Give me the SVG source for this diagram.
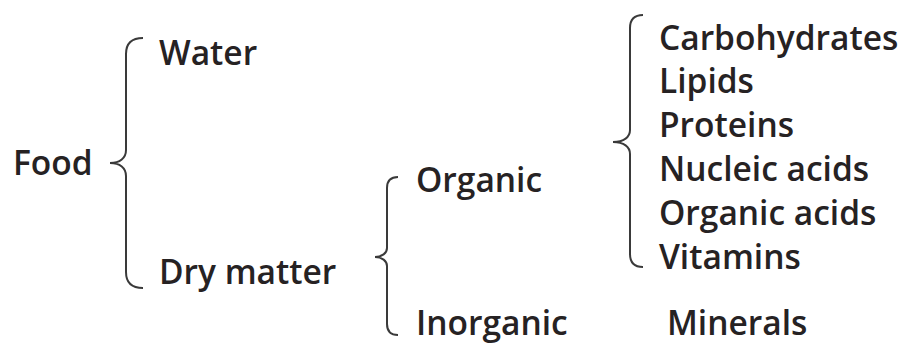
<svg xmlns="http://www.w3.org/2000/svg" width="904" height="347" viewBox="0 0 904 347">
<style>
text{font-family:"Open Sans","Noto Sans","Liberation Sans",sans-serif;font-size:33.5px;font-weight:600;fill:#262223}
.brace{fill:none;stroke:#3a3a3a;stroke-width:2}
</style>
<rect width="904" height="347" fill="#ffffff"/>
<g id="connectors">
<path class="brace" d="M143,38 C131,38 126,44 126,54 L126,150 C126,158 120,163 110,163 C120,163 126,168 126,176 L126,272 C126,282 131,288 143,288"/>
<path class="brace" d="M398,177 C391,177 387,181 387,188 L387,248 C387,253 382,257 375,257 C382,257 387,261 387,266 L387,324 C387,331 391,335 398,335"/>
<path class="brace" d="M643,15 C634,15 630,20 630,28 L630,130 C630,137 624,142 613,142 C624,142 630,147 630,154 L630,254 C630,262 634,267 643,267"/>
</g>
<g id="food"><text x="13" y="175">Food</text></g>
<g id="water"><text x="159" y="65">Water</text></g>
<g id="dry-matter"><text x="159" y="284">Dry matter</text></g>
<g id="organic"><text x="416" y="192">Organic</text></g>
<g id="inorganic"><text x="416" y="335">Inorganic</text></g>
<g id="minerals"><text x="667" y="335">Minerals</text></g>
<g id="organic-list">
<text x="659" y="50">Carbohydrates</text>
<text x="659" y="93">Lipids</text>
<text x="659" y="137">Proteins</text>
<text x="659" y="181">Nucleic acids</text>
<text x="659" y="225">Organic acids</text>
<text x="659" y="269">Vitamins</text>
</g>
</svg>
